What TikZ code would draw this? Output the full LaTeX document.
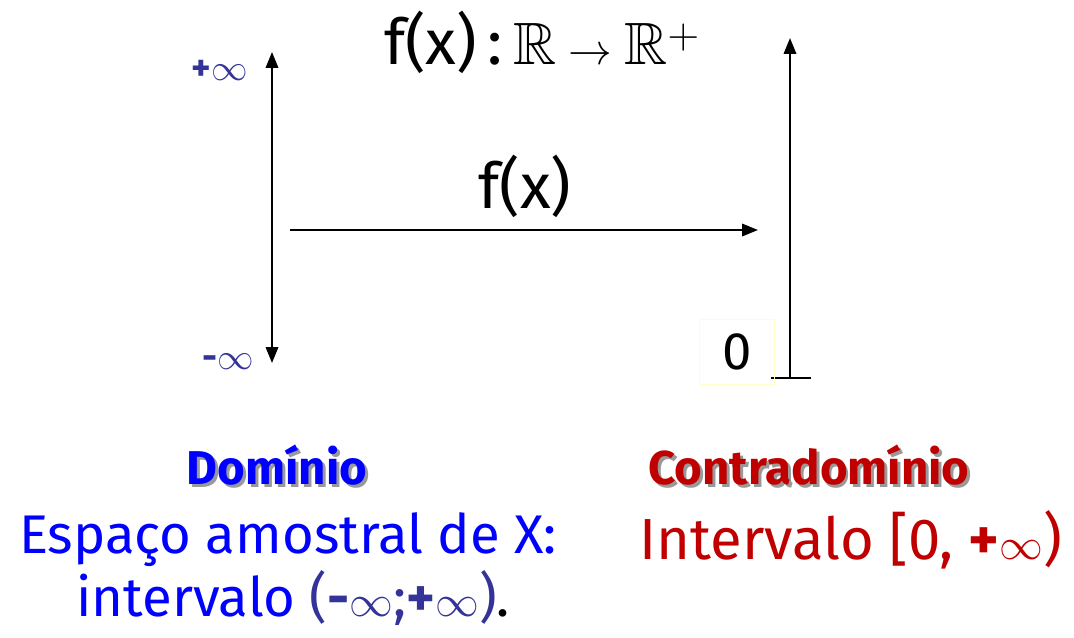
\documentclass[tikz,border=0pt]{standalone}
\usepackage{amssymb}
\usepackage{fontspec}
\setmainfont{Fira Sans}
\usetikzlibrary{arrows.meta}
\definecolor{azul}{HTML}{0000FF}
\definecolor{roxo}{HTML}{333399}
\definecolor{verm}{HTML}{C00000}
\definecolor{amarelo}{HTML}{FFFFCC}
% texto com sombra
\newcommand{\comsombra}[1]{\makebox[0pt][l]{\hspace{1.7pt}\raisebox{-1.7pt}{\textcolor{gray!80}{#1}}}#1}
\tikzset{
    eixo/.style={line width=1.3pt, -{Triangle[length=9pt,width=7pt]}},
    inf/.style={text=roxo, font=\fontsize{21}{23}\selectfont},
    titulo/.style={font=\fontsize{27}{30}\selectfont\bfseries},
    texto/.style={font=\fontsize{31}{34}\selectfont},
    grande/.style={font=\fontsize{36}{40}\selectfont},
}
\begin{document}
\begin{tikzpicture}[x=0.02cm, y=-0.02cm]
    \useasboundingbox (0,0) rectangle (1074,637);

    % dominio
    \coordinate (lsup) at (272,52);
    \coordinate (linf) at (272,363);
    \draw[line width=1.3pt, {Triangle[length=9pt,width=7pt]}-{Triangle[length=9pt,width=7pt]}] (linf) -- (lsup);
    \node[inf] (mais) at (220,70) {\textbf{+}$\infty$};
    \node[inf] (menos) at (228,362) {\textbf{-}$\infty$};

    % contradominio
    \coordinate (zero) at (790,378);
    \coordinate (rsup) at (790,38);
    \draw[eixo] (zero) -- (rsup);
    \draw[line width=1.3pt] (771,378) -- (811,378);
    \node[draw=amarelo, line width=0.8pt, minimum width=1.5cm, minimum height=1.3cm, font=\fontsize{30}{32}\selectfont] (nzero) at (737,352) {0};

    % funcao
    \node[grande] (func) at (542,42) {f(x)\,:\,\fontsize{34}{38}\selectfont$\mathbb{R}\rightarrow\mathbb{R}^{+}$};
    \coordinate (hini) at (290,230);
    \coordinate (hfim) at (758,230);
    \draw[eixo] (hini) -- (hfim);
    \node[grande] (fx) at (525,186) {f(x)};

    % legendas
    \node[titulo, text=azul] (dom) at (277,467) {\comsombra{Domínio}};
    \node[titulo, text=verm] (cdom) at (809,467) {\comsombra{Contradomínio}};
    \node[texto, text=azul] (esp) at (288,540) {Espaço amostral de X:};
    \node[texto, text=azul] (intv) at (293,598) {intervalo \textcolor{roxo}{(\textbf{-}$\infty$;\textbf{+}$\infty$)}\textcolor{black}{.}};
    \node[texto, text=verm, font=\fontsize{33}{36}\selectfont] (cint) at (851,540) {Intervalo [0, \textbf{+}$\infty$)};
\end{tikzpicture}
\end{document}
